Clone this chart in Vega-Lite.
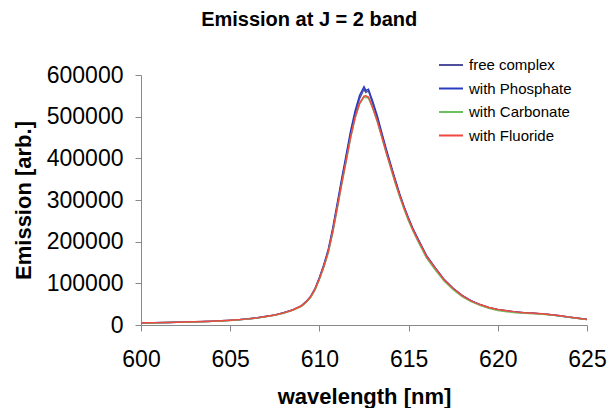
{
  "$schema": "https://vega.github.io/schema/vega-lite/v6.json",
  "width": 446,
  "height": 250,
  "autosize": {"type": "none"},
  "padding": {"left": 141, "top": 75, "right": 21, "bottom": 83},
  "config": {
    "font": "Liberation Sans",
    "view": {"stroke": null},
    "axis": {"domainColor": "#888888", "tickColor": "#888888", "grid": false, "labelColor": "#000000", "titleColor": "#000000"}
  },
  "title": {"text": "Emission at J = 2 band", "fontSize": 20, "fontWeight": "bold", "frame": "bounds", "anchor": "middle", "offset": 22, "color": "#000000"},
  "data": {
    "values": [
      {"w": 600, "free complex": 5000, "with Phosphate": 4800, "with Carbonate": 5200, "with Fluoride": 5400},
      {"w": 600.5, "free complex": 5300, "with Phosphate": 5100, "with Carbonate": 5000, "with Fluoride": 5400},
      {"w": 601, "free complex": 5600, "with Phosphate": 5800, "with Carbonate": 5400, "with Fluoride": 5700},
      {"w": 601.5, "free complex": 6100, "with Phosphate": 5900, "with Carbonate": 6000, "with Fluoride": 6200},
      {"w": 602, "free complex": 6400, "with Phosphate": 6700, "with Carbonate": 6300, "with Fluoride": 6600},
      {"w": 602.5, "free complex": 7100, "with Phosphate": 6900, "with Carbonate": 6800, "with Fluoride": 7200},
      {"w": 603, "free complex": 7800, "with Phosphate": 7600, "with Carbonate": 7300, "with Fluoride": 7700},
      {"w": 603.5, "free complex": 8200, "with Phosphate": 8500, "with Carbonate": 8000, "with Fluoride": 8400},
      {"w": 604, "free complex": 9100, "with Phosphate": 8900, "with Carbonate": 8700, "with Fluoride": 9200},
      {"w": 604.5, "free complex": 10100, "with Phosphate": 10300, "with Carbonate": 9700, "with Fluoride": 10100},
      {"w": 605, "free complex": 11100, "with Phosphate": 11400, "with Carbonate": 11000, "with Fluoride": 11300},
      {"w": 605.5, "free complex": 12900, "with Phosphate": 12600, "with Carbonate": 12400, "with Fluoride": 12900},
      {"w": 606, "free complex": 14600, "with Phosphate": 14900, "with Carbonate": 14200, "with Fluoride": 14700},
      {"w": 606.5, "free complex": 17200, "with Phosphate": 16800, "with Carbonate": 16600, "with Fluoride": 17100},
      {"w": 607, "free complex": 20300, "with Phosphate": 20800, "with Carbonate": 19700, "with Fluoride": 20400},
      {"w": 607.5, "free complex": 24200, "with Phosphate": 23700, "with Carbonate": 23500, "with Fluoride": 24100},
      {"w": 608, "free complex": 29200, "with Phosphate": 29600, "with Carbonate": 28400, "with Fluoride": 29100},
      {"w": 608.5, "free complex": 36300, "with Phosphate": 35800, "with Carbonate": 35200, "with Fluoride": 36000},
      {"w": 609, "free complex": 46500, "with Phosphate": 46000, "with Carbonate": 45000, "with Fluoride": 46200},
      {"w": 609.25, "free complex": 55500, "with Phosphate": 56000, "with Carbonate": 54000, "with Fluoride": 55300},
      {"w": 609.5, "free complex": 68000, "with Phosphate": 67500, "with Carbonate": 65500, "with Fluoride": 67200},
      {"w": 609.75, "free complex": 86000, "with Phosphate": 87000, "with Carbonate": 83500, "with Fluoride": 85500},
      {"w": 610, "free complex": 112000, "with Phosphate": 114000, "with Carbonate": 109000, "with Fluoride": 111000},
      {"w": 610.25, "free complex": 142000, "with Phosphate": 145000, "with Carbonate": 139000, "with Fluoride": 141000},
      {"w": 610.5, "free complex": 178000, "with Phosphate": 182000, "with Carbonate": 174000, "with Fluoride": 176000},
      {"w": 610.75, "free complex": 228000, "with Phosphate": 233000, "with Carbonate": 222000, "with Fluoride": 225000},
      {"w": 611, "free complex": 286000, "with Phosphate": 292000, "with Carbonate": 279000, "with Fluoride": 282000},
      {"w": 611.25, "free complex": 346000, "with Phosphate": 351000, "with Carbonate": 337000, "with Fluoride": 340000},
      {"w": 611.5, "free complex": 402000, "with Phosphate": 408000, "with Carbonate": 392000, "with Fluoride": 395000},
      {"w": 611.75, "free complex": 460000, "with Phosphate": 466000, "with Carbonate": 449000, "with Fluoride": 451000},
      {"w": 612, "free complex": 507000, "with Phosphate": 514000, "with Carbonate": 496000, "with Fluoride": 498000},
      {"w": 612.25, "free complex": 543000, "with Phosphate": 551000, "with Carbonate": 530000, "with Fluoride": 532000},
      {"w": 612.5, "free complex": 566000, "with Phosphate": 572000, "with Carbonate": 547000, "with Fluoride": 549000},
      {"w": 612.6, "free complex": 558000, "with Phosphate": 563000, "with Carbonate": 546000, "with Fluoride": 550000},
      {"w": 612.75, "free complex": 562000, "with Phosphate": 566000, "with Carbonate": 545000, "with Fluoride": 547000},
      {"w": 613, "free complex": 530000, "with Phosphate": 535000, "with Carbonate": 519000, "with Fluoride": 520000},
      {"w": 613.25, "free complex": 497000, "with Phosphate": 501000, "with Carbonate": 487000, "with Fluoride": 489000},
      {"w": 613.5, "free complex": 458000, "with Phosphate": 461000, "with Carbonate": 450000, "with Fluoride": 452000},
      {"w": 613.75, "free complex": 418000, "with Phosphate": 422000, "with Carbonate": 412000, "with Fluoride": 414000},
      {"w": 614, "free complex": 382000, "with Phosphate": 385000, "with Carbonate": 376000, "with Fluoride": 379000},
      {"w": 614.25, "free complex": 346000, "with Phosphate": 349000, "with Carbonate": 340000, "with Fluoride": 344000},
      {"w": 614.5, "free complex": 312000, "with Phosphate": 315000, "with Carbonate": 307000, "with Fluoride": 311000},
      {"w": 614.75, "free complex": 282000, "with Phosphate": 284000, "with Carbonate": 277000, "with Fluoride": 281000},
      {"w": 615, "free complex": 254000, "with Phosphate": 256000, "with Carbonate": 249000, "with Fluoride": 253000},
      {"w": 615.25, "free complex": 229000, "with Phosphate": 231000, "with Carbonate": 225000, "with Fluoride": 228000},
      {"w": 615.5, "free complex": 207000, "with Phosphate": 209000, "with Carbonate": 203000, "with Fluoride": 206000},
      {"w": 615.75, "free complex": 186000, "with Phosphate": 188000, "with Carbonate": 182000, "with Fluoride": 186000},
      {"w": 616, "free complex": 165000, "with Phosphate": 167000, "with Carbonate": 161000, "with Fluoride": 165000},
      {"w": 616.5, "free complex": 136000, "with Phosphate": 137000, "with Carbonate": 132000, "with Fluoride": 136000},
      {"w": 617, "free complex": 108000, "with Phosphate": 109000, "with Carbonate": 105000, "with Fluoride": 108000},
      {"w": 617.5, "free complex": 87500, "with Phosphate": 88000, "with Carbonate": 84500, "with Fluoride": 87500},
      {"w": 618, "free complex": 70500, "with Phosphate": 71000, "with Carbonate": 68000, "with Fluoride": 70500},
      {"w": 618.5, "free complex": 58000, "with Phosphate": 58500, "with Carbonate": 56000, "with Fluoride": 58000},
      {"w": 619, "free complex": 49000, "with Phosphate": 48500, "with Carbonate": 47000, "with Fluoride": 49000},
      {"w": 619.5, "free complex": 42000, "with Phosphate": 41500, "with Carbonate": 40000, "with Fluoride": 42000},
      {"w": 620, "free complex": 37000, "with Phosphate": 36500, "with Carbonate": 35000, "with Fluoride": 37000},
      {"w": 620.5, "free complex": 34000, "with Phosphate": 33500, "with Carbonate": 32000, "with Fluoride": 34000},
      {"w": 621, "free complex": 31000, "with Phosphate": 31500, "with Carbonate": 29500, "with Fluoride": 31500},
      {"w": 621.5, "free complex": 29500, "with Phosphate": 29000, "with Carbonate": 28000, "with Fluoride": 29500},
      {"w": 622, "free complex": 28000, "with Phosphate": 28500, "with Carbonate": 27000, "with Fluoride": 28300},
      {"w": 622.5, "free complex": 26700, "with Phosphate": 26300, "with Carbonate": 25700, "with Fluoride": 26800},
      {"w": 623, "free complex": 24600, "with Phosphate": 24400, "with Carbonate": 23700, "with Fluoride": 24700},
      {"w": 623.5, "free complex": 22100, "with Phosphate": 21800, "with Carbonate": 21300, "with Fluoride": 22000},
      {"w": 624, "free complex": 19000, "with Phosphate": 18700, "with Carbonate": 18400, "with Fluoride": 18900},
      {"w": 624.5, "free complex": 16300, "with Phosphate": 16100, "with Carbonate": 15800, "with Fluoride": 16200},
      {"w": 625, "free complex": 13600, "with Phosphate": 13300, "with Carbonate": 13200, "with Fluoride": 13500}
    ]
  },
  "transform": [
    {"fold": ["free complex", "with Phosphate", "with Carbonate", "with Fluoride"], "as": ["series", "v"]}
  ],
  "mark": {"type": "line", "strokeWidth": 1.5},
  "encoding": {
    "x": {
      "field": "w", "type": "quantitative",
      "scale": {"domain": [600, 625], "nice": false, "zero": false},
      "axis": {"values": [600, 605, 610, 615, 620, 625], "title": "wavelength [nm]", "labelFontSize": 23, "labelPadding": 17, "tickSize": 6, "titleFontSize": 22, "titleFontWeight": "bold", "titlePadding": 15, "labelFlush": false}
    },
    "y": {
      "field": "v", "type": "quantitative",
      "scale": {"domain": [0, 600000], "nice": false},
      "axis": {"values": [0, 100000, 200000, 300000, 400000, 500000, 600000], "format": "d", "title": "Emission [arb.]", "labelFontSize": 23, "labelPadding": 12, "tickSize": 6, "titleFontSize": 22, "titleFontWeight": "bold", "titlePadding": 11}
    },
    "color": {
      "field": "series", "type": "nominal",
      "scale": {"domain": ["free complex", "with Phosphate", "with Carbonate", "with Fluoride"], "range": ["#4f4f9c", "#2a3cc2", "#6cc060", "#f04a40"]},
      "legend": {"title": null, "orient": "none", "legendX": 297, "legendY": -23, "symbolType": "stroke", "symbolSize": 576, "symbolStrokeWidth": 2, "labelFontSize": 15, "labelOffset": 5, "rowPadding": 2.5, "padding": 0, "labelColor": "#000000"}
    },
    "order": {"field": "w"}
  }
}
